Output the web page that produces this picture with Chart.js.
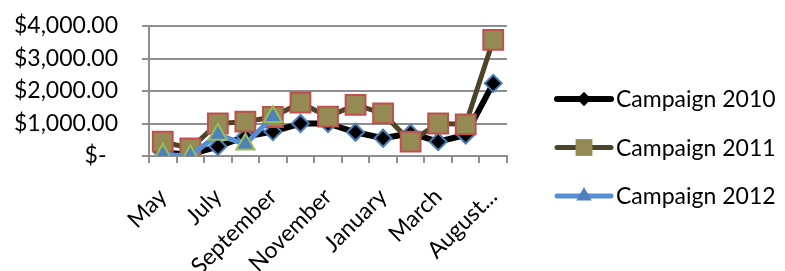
<!DOCTYPE html>
<html>
<head>
<meta charset="utf-8">
<script src="https://cdn.jsdelivr.net/npm/chart.js@4"></script>
<style>
  html, body { margin: 0; padding: 0; background: #fff; }
  #wrap { width: 785px; height: 271px; }
</style>
</head>
<body>
<div id="wrap"><canvas id="chart" width="785" height="271"></canvas></div>
<script>
// month labels along the x axis
const months = ['May', 'June', 'July', 'August', 'September', 'October', 'November',
  'December', 'January', 'February', 'March', 'April', 'August...'];

const campaign2010 = [100, 50, 290, 600, 750, 1000, 1000, 730, 545, 700, 440, 645, 2235];
const campaign2011 = [440, 235, 1000, 1055, 1200, 1640, 1210, 1570, 1310, 440, 1000, 975, 3570];
const campaign2012 = [50, 0, 660, 360, 1210, null, null, null, null, null, null, null, null];

const yTicks = [0, 1000, 2000, 3000, 4000];

const FONT = 'Lato';

function money(v) {
  if (v === 0) return '$-\u2002';
  return '$' + v.toLocaleString('en-US', { minimumFractionDigits: 2, maximumFractionDigits: 2 });
}

// legend drawn as line + marker like the spreadsheet one
const lineLegend = {
  id: 'lineLegend',
  afterDraw(chart) {
    const ctx = chart.ctx;
    const x0 = chart.chartArea.right + 50;
    chart.data.datasets.forEach((ds, i) => {
      const y = 99 + i * 48.5;
      ctx.save();
      ctx.strokeStyle = ds.borderColor;
      ctx.lineWidth = ds.borderWidth;
      ctx.lineCap = 'round';
      ctx.beginPath();
      ctx.moveTo(x0, y);
      ctx.lineTo(x0 + 54, y);
      ctx.stroke();
      ctx.fillStyle = ds.pointBackgroundColor;
      ctx.strokeStyle = ds.pointBorderColor;
      ctx.lineWidth = ds.pointBorderWidth;
      Chart.helpers.drawPoint(ctx, { pointStyle: ds.pointStyle, radius: ds.pointRadius * 0.85, rotation: 0 }, x0 + 27, y);
      ctx.fillStyle = '#000';
      ctx.font = '23px ' + FONT;
      ctx.textBaseline = 'middle';
      ctx.textAlign = 'left';
      ctx.fillText(ds.label, x0 + 59, y + 1);
      ctx.restore();
    });
  }
};

const ctx = document.getElementById('chart').getContext('2d');
new Chart(ctx, {
  type: 'line',
  data: {
    labels: months,
    datasets: [{
      label: 'Campaign 2010',
      data: campaign2010,
      borderColor: '#000000',
      borderWidth: 6,
      pointStyle: 'rectRot',
      pointRadius: 8.5,
      pointBackgroundColor: '#000000',
      pointBorderColor: '#4A7EBB',
      pointBorderWidth: 2,
      order: 3
    }, {
      label: 'Campaign 2011',
      data: campaign2011,
      borderColor: '#4A452A',
      borderWidth: 5,
      pointStyle: 'rect',
      pointRadius: 14,
      pointBackgroundColor: '#948A54',
      pointBorderColor: '#C0504D',
      pointBorderWidth: 2,
      order: 2
    }, {
      label: 'Campaign 2012',
      data: campaign2012,
      borderColor: '#558ED5',
      borderWidth: 5,
      pointStyle: 'triangle',
      pointRadius: 10.5,
      pointBackgroundColor: '#4F81BD',
      pointBorderColor: '#9BBB59',
      pointBorderWidth: 2,
      order: 1
    }]
  },
  options: {
    responsive: false,
    animation: false,
    spanGaps: false,
    layout: { padding: { left: 13, right: 278, top: 26, bottom: 0 } },
    elements: { line: { tension: 0, borderJoinStyle: 'round', borderCapStyle: 'round' } },
    plugins: {
      legend: { display: false },
      tooltip: { enabled: false }
    },
    scales: {
      x: {
        offset: true,
        grid: {
          offset: true,
          drawOnChartArea: false,
          drawTicks: true,
          tickLength: 7,
          color: '#8e8e8e',
          lineWidth: 2
        },
        border: { color: '#8e8e8e', width: 2 },
        ticks: {
          autoSkip: false,
          maxRotation: 45,
          minRotation: 45,
          padding: 20,
          color: '#000',
          font: { family: FONT, size: 23 },
          callback: function (v, i) { return i % 2 === 0 ? months[i] : ''; }
        },
        afterFit: function (s) { s.height = 115; s.paddingTop = 0; s.paddingBottom = 0; }
      },
      y: {
        min: 0,
        max: 4000,
        afterBuildTicks: function (s) { s.ticks = yTicks.map(v => ({ value: v })); },
        grid: {
          color: '#8e8e8e',
          lineWidth: 2,
          drawTicks: true,
          tickLength: 7
        },
        border: { color: '#8e8e8e', width: 2 },
        ticks: {
          autoSkip: false,
          padding: 24,
          color: '#000',
          font: { family: FONT, size: 23 },
          callback: function (v) { return money(v); }
        },
        afterFit: function (s) { s.width = 136; s.paddingTop = 0; s.paddingBottom = 0; }
      }
    }
  },
  plugins: [lineLegend]
});
</script>
</body>
</html>
